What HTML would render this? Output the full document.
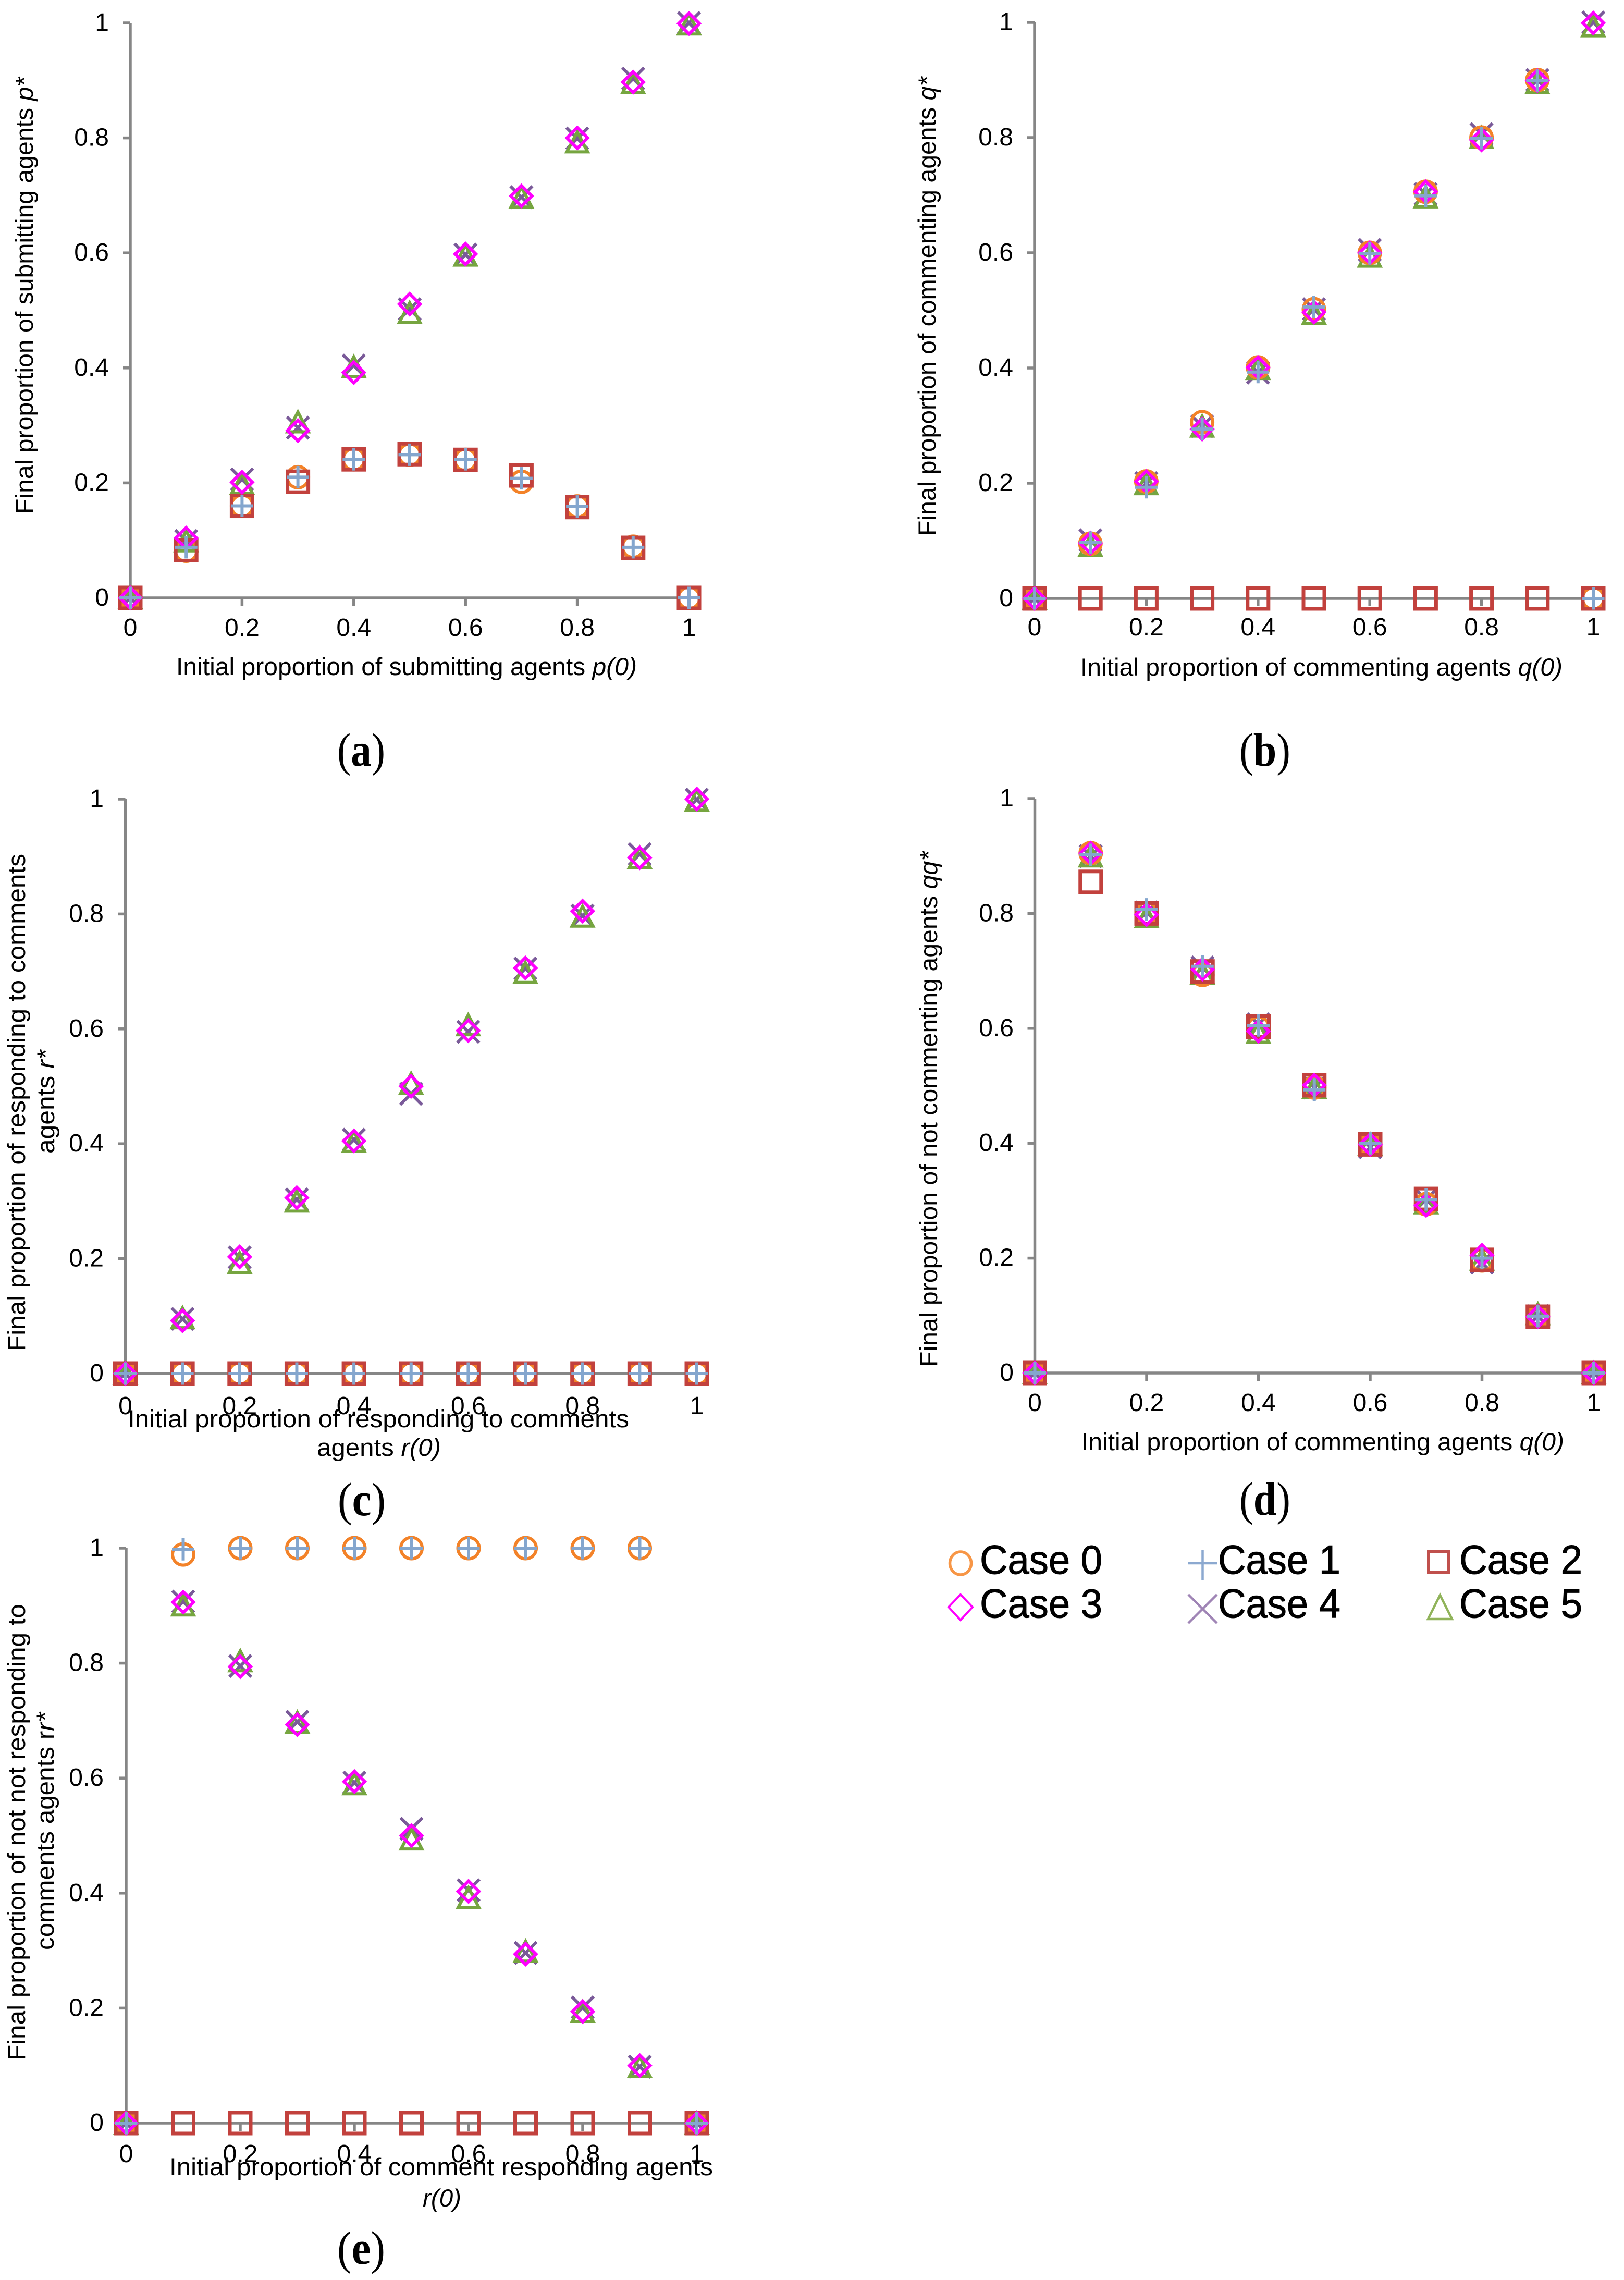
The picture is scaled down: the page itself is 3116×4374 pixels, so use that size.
<!DOCTYPE html>
<html lang="en">
<head>
<meta charset="utf-8">
<title>Final versus initial agent proportions</title>
<style>
html,body{margin:0;padding:0;background:#fff;}
svg{display:block;}
text{font-family:"Liberation Sans",Arial,sans-serif;fill:#000;}
.cap{font-family:"Liberation Serif",serif;font-size:90px;}
.cap .b{font-weight:bold;}
.title{font-size:47px;}
.leg{font-size:78px;stroke:#000;stroke-width:1;}
</style>
</head>
<body>
<svg id="figure" xmlns="http://www.w3.org/2000/svg" width="3116" height="4374" viewBox="0 0 3116 4374">
<rect x="0" y="0" width="3116" height="4374" fill="#fff"/>
<g id="plots"></g>

<text class="title" x="338" y="1295" textLength="884" lengthAdjust="spacingAndGlyphs">Initial proportion of submitting agents <tspan font-style="italic">p(0)</tspan></text>
<text class="title" transform="translate(63,986) rotate(-90)" textLength="838" lengthAdjust="spacingAndGlyphs">Final proportion of submitting agents <tspan font-style="italic">p*</tspan></text>
<text class="cap" x="647" y="1469" textLength="92" lengthAdjust="spacingAndGlyphs">(<tspan class="b">a</tspan>)</text>

<text class="title" x="2073" y="1296" textLength="925" lengthAdjust="spacingAndGlyphs">Initial proportion of commenting agents <tspan font-style="italic">q(0)</tspan></text>
<text class="title" transform="translate(1795,1028) rotate(-90)" textLength="881" lengthAdjust="spacingAndGlyphs">Final proportion of commenting agents <tspan font-style="italic">q*</tspan></text>
<text class="cap" x="2378" y="1469" textLength="98" lengthAdjust="spacingAndGlyphs">(<tspan class="b">b</tspan>)</text>

<text class="title" x="245" y="2738" textLength="962" lengthAdjust="spacingAndGlyphs">Initial proportion of responding to comments</text>
<text class="title" x="608" y="2793" textLength="238" lengthAdjust="spacingAndGlyphs">agents <tspan font-style="italic">r(0)</tspan></text>
<text class="title" transform="translate(48,2592) rotate(-90)" textLength="954" lengthAdjust="spacingAndGlyphs">Final proportion of responding to comments</text>
<text class="title" transform="translate(104,2213) rotate(-90)" textLength="199" lengthAdjust="spacingAndGlyphs">agents <tspan font-style="italic">r*</tspan></text>
<text class="cap" x="648" y="2907" textLength="92" lengthAdjust="spacingAndGlyphs">(<tspan class="b">c</tspan>)</text>

<text class="title" x="2075" y="2782" textLength="926" lengthAdjust="spacingAndGlyphs">Initial proportion of commenting agents <tspan font-style="italic">q(0)</tspan></text>
<text class="title" transform="translate(1798,2622) rotate(-90)" textLength="989" lengthAdjust="spacingAndGlyphs">Final proportion of not commenting agents <tspan font-style="italic">qq*</tspan></text>
<text class="cap" x="2378" y="2906" textLength="98" lengthAdjust="spacingAndGlyphs">(<tspan class="b">d</tspan>)</text>

<text class="title" x="325" y="4173" textLength="1043" lengthAdjust="spacingAndGlyphs">Initial proportion of comment responding agents</text>
<text class="title" x="811" y="4233" textLength="74" lengthAdjust="spacingAndGlyphs" font-style="italic">r(0)</text>
<text class="title" transform="translate(48,3953) rotate(-90)" textLength="876" lengthAdjust="spacingAndGlyphs">Final proportion of not not responding to</text>
<text class="title" transform="translate(103,3741) rotate(-90)" textLength="456" lengthAdjust="spacingAndGlyphs">comments agents r<tspan font-style="italic">r*</tspan></text>
<text class="cap" x="647" y="4343" textLength="92" lengthAdjust="spacingAndGlyphs">(<tspan class="b">e</tspan>)</text>

<g>
  <g>
    <ellipse cx="1843" cy="2999" rx="20.5" ry="22" fill="none" stroke="#F79646" stroke-width="5.5"/>
    <text class="leg" x="1880" y="3019" textLength="235" lengthAdjust="spacingAndGlyphs">Case 0</text>
  </g>
  <g>
    <path d="M2279 2999H2336M2307.5 2974V3031" fill="none" stroke="#8CA9D0" stroke-width="4.5"/>
    <text class="leg" x="2337" y="3019" textLength="235" lengthAdjust="spacingAndGlyphs">Case 1</text>
  </g>
  <g>
    <rect x="2741" y="2976" width="38" height="41" fill="none" stroke="#C0504D" stroke-width="6"/>
    <text class="leg" x="2800" y="3019" textLength="236" lengthAdjust="spacingAndGlyphs">Case 2</text>
  </g>
  <g>
    <polygon points="1843,3059 1866,3083 1843,3108 1820,3083" fill="none" stroke="#FF00FF" stroke-width="4"/>
    <text class="leg" x="1880" y="3103" textLength="235" lengthAdjust="spacingAndGlyphs">Case 3</text>
  </g>
  <g>
    <path d="M2280 3059L2335 3114M2335 3059L2280 3114" fill="none" stroke="#9F84B5" stroke-width="4.5"/>
    <text class="leg" x="2337" y="3103" textLength="235" lengthAdjust="spacingAndGlyphs">Case 4</text>
  </g>
  <g>
    <polygon points="2763,3060 2786,3106 2740,3106" fill="none" stroke="#90B35A" stroke-width="4.5"/>
    <text class="leg" x="2800" y="3103" textLength="236" lengthAdjust="spacingAndGlyphs">Case 5</text>
  </g>
</g>
</svg>

<script>
const xValues = [0, 0.1, 0.2, 0.3, 0.4, 0.5, 0.6, 0.7, 0.8, 0.9, 1];
const xTickValues = [0, 0.2, 0.4, 0.6, 0.8, 1];
const yTickValues = [0, 0.2, 0.4, 0.6, 0.8, 1];

const aCase0 = [0, 0.082, 0.16, 0.21, 0.241, 0.249, 0.24, 0.202, 0.159, 0.089, 0];
const aCase1 = [0, 0.088, 0.16, 0.21, 0.241, 0.249, 0.241, 0.208, 0.159, 0.088, 0];
const aCase2 = [0, 0.083, 0.16, 0.202, 0.241, 0.25, 0.24, 0.213, 0.158, 0.087, 0];
const aCase3 = [0, 0.104, 0.201, 0.291, 0.392, 0.511, 0.598, 0.699, 0.8, 0.897, 0.999];
const aCase4 = [0, 0.099, 0.206, 0.296, 0.404, 0.502, 0.597, 0.697, 0.799, 0.903, 1];
const aCase5 = [0, 0.099, 0.199, 0.306, 0.402, 0.496, 0.596, 0.697, 0.793, 0.896, 0.998];

const bCase0 = [0, 0.095, 0.203, 0.306, 0.401, 0.502, 0.6, 0.706, 0.8, 0.9, 0];
const bCase1 = [0, 0.097, 0.193, 0.294, 0.393, 0.506, 0.599, 0.699, 0.799, 0.899, 0];
const bCase2 = [0, 0, 0, 0, 0, 0, 0, 0, 0, 0, 0];
const bCase3 = [0, 0.096, 0.203, 0.294, 0.401, 0.497, 0.6, 0.706, 0.796, 0.899, 0.999];
const bCase4 = [0, 0.101, 0.2, 0.299, 0.392, 0.502, 0.605, 0.702, 0.806, 0.9, 1];
const bCase5 = [0, 0.092, 0.199, 0.299, 0.399, 0.495, 0.594, 0.697, 0.8, 0.895, 0.994];

const cCase0 = [0, 0, 0, 0, 0, 0, 0, 0, 0, 0, 0];
const cCase1 = [0, 0, 0, 0, 0, 0, 0, 0, 0, 0, 0];
const cCase2 = [0, 0, 0, 0, 0, 0, 0, 0, 0, 0, 0];
const cCase3 = [0, 0.092, 0.203, 0.306, 0.405, 0.5, 0.597, 0.706, 0.805, 0.898, 1];
const cCase4 = [0, 0.095, 0.202, 0.303, 0.407, 0.487, 0.595, 0.705, 0.797, 0.904, 0.999];
const cCase5 = [0, 0.097, 0.193, 0.3, 0.404, 0.505, 0.607, 0.698, 0.796, 0.898, 0.998];

const dCase0 = [0, 0.905, 0.8, 0.693, 0.601, 0.497, 0.398, 0.294, 0.196, 0.098, 0];
const dCase1 = [0, 0.902, 0.807, 0.708, 0.605, 0.493, 0.4, 0.302, 0.2, 0.099, 0];
const dCase2 = [0, 0.855, 0.8, 0.699, 0.603, 0.501, 0.398, 0.303, 0.197, 0.098, 0];
const dCase3 = [0, 0.905, 0.798, 0.703, 0.595, 0.501, 0.398, 0.292, 0.205, 0.098, 0];
const dCase4 = [0, 0.9, 0.802, 0.706, 0.607, 0.497, 0.393, 0.302, 0.192, 0.099, 0];
const dCase5 = [0, 0.9, 0.794, 0.696, 0.593, 0.497, 0.398, 0.296, 0.198, 0.103, 0];

const eCase0 = [0, 0.989, 1, 1, 1, 1, 1, 1, 1, 1, 0];
const eCase1 = [0, 0.998, 1, 1, 1, 1, 1, 1, 1, 1, 0];
const eCase2 = [0, 0, 0, 0, 0, 0, 0, 0, 0, 0, 0];
const eCase3 = [0, 0.906, 0.794, 0.693, 0.594, 0.5, 0.403, 0.294, 0.194, 0.1, 0];
const eCase4 = [0, 0.907, 0.795, 0.698, 0.592, 0.512, 0.405, 0.296, 0.201, 0.098, 0];
const eCase5 = [0, 0.901, 0.804, 0.697, 0.59, 0.494, 0.392, 0.299, 0.194, 0.098, 0];

const panelA = { id: 'a', left: 250, right: 1322, top: 44, bottom: 1147, yLabelRight: 209, xLabelBase: 1220, series: [aCase0, aCase1, aCase2, aCase3, aCase4, aCase5] };
const panelB = { id: 'b', left: 1985, right: 3057, top: 43, bottom: 1148, yLabelRight: 1944, xLabelBase: 1219, series: [bCase0, bCase1, bCase2, bCase3, bCase4, bCase5] };
const panelC = { id: 'c', left: 240.5, right: 1337, top: 1533, bottom: 2635, yLabelRight: 199, xLabelBase: 2713, series: [cCase0, cCase1, cCase2, cCase3, cCase4, cCase5] };
const panelD = { id: 'd', left: 1985.5, right: 3058, top: 1532, bottom: 2634, yLabelRight: 1945, xLabelBase: 2707, series: [dCase0, dCase1, dCase2, dCase3, dCase4, dCase5] };
const panelE = { id: 'e', left: 242, right: 1337, top: 2970, bottom: 4073, yLabelRight: 199, xLabelBase: 4148, series: [eCase0, eCase1, eCase2, eCase3, eCase4, eCase5] };

const panels = [panelA, panelB, panelC, panelD, panelE];
const drawOrder = [4, 5, 0, 2, 3, 1];
const NS = 'http://www.w3.org/2000/svg';
const AXIS_COLOR = '#868686';
const root = document.getElementById('plots');

function make(tag, attrs, parent) {
  const el = document.createElementNS(NS, tag);
  for (const k in attrs) el.setAttribute(k, attrs[k]);
  parent.appendChild(el);
  return el;
}

function drawMarker(caseIndex, cx, cy, parent) {
  let el;
  if (caseIndex === 0) {
    el = make('circle', { cx: cx, cy: cy, r: 20.5, fill: 'none', stroke: '#F38228', 'stroke-width': 6 }, parent);
  } else if (caseIndex === 1) {
    el = make('path', { d: 'M' + (cx - 21.5) + ' ' + cy + 'H' + (cx + 21.5) + 'M' + cx + ' ' + (cy - 21.5) + 'V' + (cy + 21.5), fill: 'none', stroke: '#84A6CE', 'stroke-width': 6 }, parent);
  } else if (caseIndex === 2) {
    el = make('rect', { x: cx - 20, y: cy - 20, width: 40, height: 40, fill: 'none', stroke: '#C2413D', 'stroke-width': 7 }, parent);
  } else if (caseIndex === 3) {
    el = make('polygon', { points: cx + ',' + (cy - 20) + ' ' + (cx + 20) + ',' + cy + ' ' + cx + ',' + (cy + 20) + ' ' + (cx - 20) + ',' + cy, fill: 'none', stroke: '#FF00FF', 'stroke-width': 6 }, parent);
  } else if (caseIndex === 4) {
    el = make('path', { d: 'M' + (cx - 21) + ' ' + (cy - 21) + 'L' + (cx + 21) + ' ' + (cy + 21) + 'M' + (cx + 21) + ' ' + (cy - 21) + 'L' + (cx - 21) + ' ' + (cy + 21), fill: 'none', stroke: '#7A5A99', 'stroke-width': 6 }, parent);
  } else {
    el = make('polygon', { points: cx + ',' + (cy - 19) + ' ' + (cx + 20) + ',' + (cy + 19) + ' ' + (cx - 20) + ',' + (cy + 19), fill: 'none', stroke: '#76A540', 'stroke-width': 6 }, parent);
  }
  return el;
}

panels.forEach(function (p) {
  const xScale = function (v) { return p.left + v * (p.right - p.left); };
  const yScale = function (v) { return p.bottom - v * (p.bottom - p.top); };

  const group = make('g', {}, root);
  
  

  yTickValues.forEach(function (t) {
    const tick = make('line', { x1: p.left - 14, x2: p.left, y1: yScale(t), y2: yScale(t), stroke: AXIS_COLOR, 'stroke-width': 5.5 }, group);
    
    
    const label = make('text', { x: p.yLabelRight, y: yScale(t) + 15, 'text-anchor': 'end', 'font-size': 48 }, group);
    
    
    label.textContent = String(t);
  });

  xTickValues.forEach(function (t) {
    const tick = make('line', { x1: xScale(t), x2: xScale(t), y1: p.bottom, y2: p.bottom + 15, stroke: AXIS_COLOR, 'stroke-width': 5.5 }, group);
    
    
    const label = make('text', { x: xScale(t), y: p.xLabelBase, 'text-anchor': 'middle', 'font-size': 48 }, group);
    
    
    label.textContent = String(t);
  });

  const yAxis = make('line', { x1: p.left, x2: p.left, y1: p.top, y2: p.bottom, stroke: AXIS_COLOR, 'stroke-width': 5.5 }, group);
  
  
  const xAxis = make('line', { x1: p.left, x2: p.right, y1: p.bottom, y2: p.bottom, stroke: AXIS_COLOR, 'stroke-width': 5.5 }, group);
  
  

  drawOrder.forEach(function (caseIndex) {
    const values = p.series[caseIndex];
    const seriesGroup = make('g', {}, group);
    
    
    values.forEach(function (v, i) {
      const mark = drawMarker(caseIndex, xScale(xValues[i]), yScale(v), seriesGroup);
      
      
    });
  });
});
</script>
</body>
</html>
